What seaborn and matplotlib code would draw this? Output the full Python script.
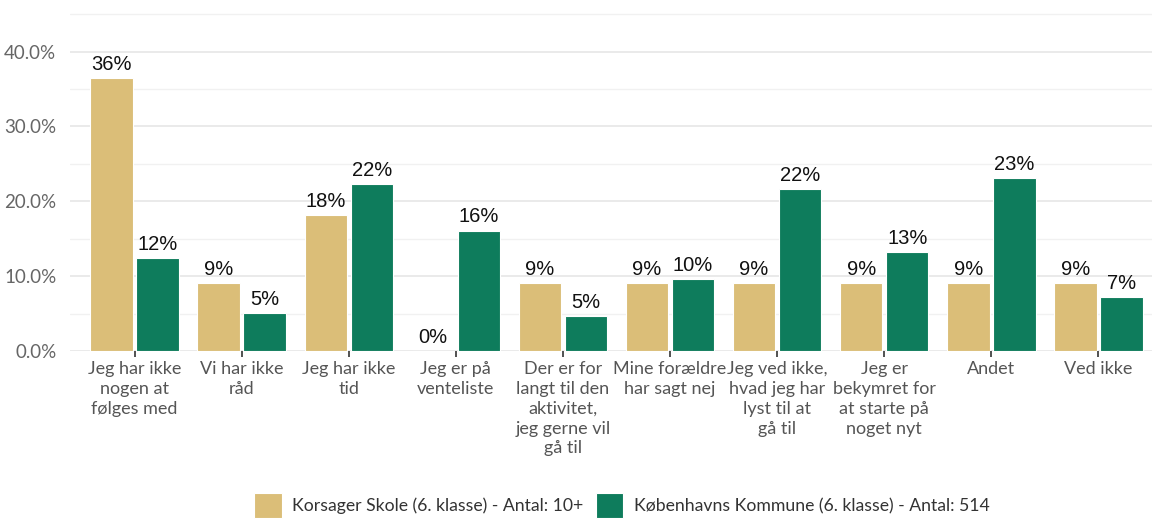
import numpy as np
import pandas as pd
import seaborn as sns
import matplotlib.pyplot as plt
from matplotlib.ticker import MultipleLocator, FuncFormatter

categories = [
    "Jeg har ikke\nnogen at\nfølges med",
    "Vi har ikke\nråd",
    "Jeg har ikke\ntid",
    "Jeg er på\nventeliste",
    "Der er for\nlangt til den\naktivitet,\njeg gerne vil\ngå til",
    "Mine forældre\nhar sagt nej",
    "Jeg ved ikke,\nhvad jeg har\nlyst til at\ngå til",
    "Jeg er\nbekymret for\nat starte på\nnoget nyt",
    "Andet",
    "Ved ikke",
]
series_names = [
    "Korsager Skole (6. klasse) - Antal: 10+",
    "Københavns Kommune (6. klasse) - Antal: 514",
]
korsager = [36.4, 9.1, 18.2, 0.0, 9.1, 9.1, 9.1, 9.1, 9.1, 9.1]
kommune = [12.4, 5.1, 22.3, 16.1, 4.7, 9.6, 21.6, 13.2, 23.1, 7.2]
colors = ["#DBBE78", "#0E7C5C"]

df = pd.DataFrame({
    "kategori": categories * 2,
    "gruppe": [series_names[0]] * len(categories) + [series_names[1]] * len(categories),
    "pct": korsager + kommune,
})

sns.set_theme(style="white")
plt.rcParams["font.family"] = ["Lato", "DejaVu Sans"]

fig = plt.figure(figsize=(11.52, 5.24), dpi=100)
ax = fig.add_axes([0.061, 0.330, 0.939, 0.666])

sns.barplot(
    data=df, x="kategori", y="pct", hue="gruppe",
    order=categories, hue_order=series_names,
    palette=colors, saturation=1, width=0.86, gap=0.08,
    edgecolor="white", linewidth=0.8, ax=ax, legend=True,
)

for cont in ax.containers:
    ax.bar_label(cont, labels=[f"{v:.0f}%" for v in cont.datavalues],
                 padding=3, fontsize=14.5, color="#111111",
                 family="Liberation Sans")

ax.set_xlim(-0.6, 9.5)
ax.set_ylim(0, 46.6)
ax.yaxis.set_major_locator(MultipleLocator(10))
ax.yaxis.set_minor_locator(MultipleLocator(5))
ax.yaxis.set_major_formatter(FuncFormatter(lambda v, p: f"{v:.1f}%"))
ax.grid(axis="y", which="major", color="#E6E6E6", linewidth=1.2)
ax.grid(axis="y", which="minor", color="#F1F1F1", linewidth=1.0)
ax.set_axisbelow(True)
for s in ax.spines.values():
    s.set_visible(False)

ax.set_xlabel("")
ax.set_ylabel("")
ax.tick_params(axis="y", which="both", length=0, labelsize=13.5,
               labelcolor="#666666", pad=10)
ax.tick_params(axis="x", length=4, width=1.2, color="#333333",
               labelsize=13, labelcolor="#555555", pad=3, bottom=True)
for lbl in ax.get_xticklabels():
    lbl.set_linespacing(1.3)

handles, labels = ax.get_legend_handles_labels()
ax.legend(handles, labels, loc="lower center", ncol=2, frameon=False,
          fontsize=12.7, handlelength=1.55, handleheight=1.75,
          handletextpad=0.6, columnspacing=0.7, labelcolor="#333333",
          borderaxespad=0.1)
leg = ax.get_legend()
leg.set_bbox_to_anchor((0.54, -0.005), transform=fig.transFigure)

fig.savefig("out.png", dpi=100, facecolor="white")
